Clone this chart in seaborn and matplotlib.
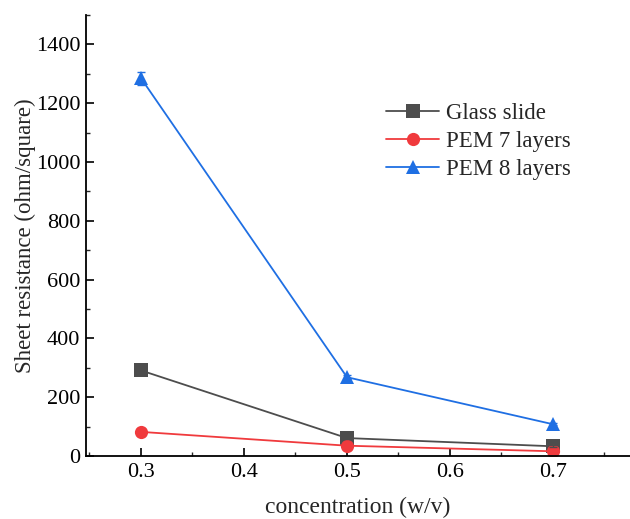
import pandas as pd
import matplotlib.pyplot as plt
import seaborn as sns
from matplotlib.ticker import MultipleLocator

# Values
concentration = [0.3, 0.5, 0.7]
glass_slide = [291, 61, 33]
glass_err = [16, 4, 3]
pem7 = [82, 35, 16]
pem7_err = [4, 2, 2]
pem8 = [1285, 268, 108]
pem8_err = [22, 6, 4]
series_names = ["Glass slide", "PEM 7 layers", "PEM 8 layers"]

colors = ["#4d4d4d", "#f03a3d", "#1f6fe3"]
markers = ["s", "o", "^"]

df = pd.DataFrame({
    "concentration": concentration * 3,
    "resistance": glass_slide + pem7 + pem8,
    "err": glass_err + pem7_err + pem8_err,
    "series": [n for n in series_names for _ in concentration],
})

sns.set_style("ticks")
plt.rcParams["font.family"] = ["Liberation Serif", "DejaVu Serif"]

fig = plt.figure(figsize=(6.3, 5.19), dpi=100)
ax = fig.add_axes([0.1365, 0.1214, 0.8635, 0.8497])

sns.lineplot(data=df, x="concentration", y="resistance", hue="series",
             style="series", markers=markers, dashes=False, palette=colors,
             markersize=9.5, linewidth=1.3, markeredgewidth=0, ax=ax)

for name, c in zip(series_names, colors):
    sub = df[df["series"] == name]
    ax.errorbar(sub["concentration"], sub["resistance"], yerr=sub["err"],
                fmt="none", ecolor=c, elinewidth=1, capsize=3, capthick=1)

ax.set_xlim(0.2466, 0.7748)
ax.set_ylim(0, 1500)
ax.xaxis.set_major_locator(MultipleLocator(0.1))
ax.xaxis.set_minor_locator(MultipleLocator(0.05))
ax.yaxis.set_major_locator(MultipleLocator(200))
ax.yaxis.set_minor_locator(MultipleLocator(100))
ax.set_yticks(range(0, 1401, 200))
ax.tick_params(which="major", direction="in", length=6, width=1.2, labelsize=16, colors="black")
ax.tick_params(which="minor", direction="in", length=3, width=1.0)
ax.tick_params(axis="x", pad=5)
ax.tick_params(axis="y", pad=4)

for s in ["top", "right"]:
    ax.spines[s].set_visible(False)
for s in ["left", "bottom"]:
    ax.spines[s].set_linewidth(1.3)
    ax.spines[s].set_color("black")

ax.set_xlabel("concentration (w/v)", fontsize=17, labelpad=11)
ax.set_ylabel("Sheet resistance (ohm/square)", fontsize=16.5, labelpad=0)

leg = ax.legend(loc="upper left", bbox_to_anchor=(0.514, 0.848), frameon=False,
                fontsize=16.5, handlelength=2.3, labelspacing=0.3, handletextpad=0.3)

fig.savefig("out.png", dpi=100)
